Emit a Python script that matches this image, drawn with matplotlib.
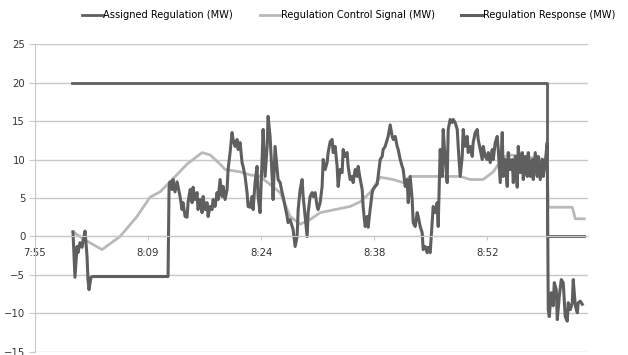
import matplotlib
matplotlib.use("Agg")
import matplotlib.pyplot as plt

# minutes after 7:55
assigned_t = [4.67, 64.56, 64.56, 69.23]
assigned_mw = [20, 20, 0, 0]

signal_t = [4.79, 6.56, 8.45, 10.72, 12.86, 14.50, 15.76, 17.02, 19.17, 21.06, 22.07,
            23.33, 23.96, 25.85, 27.11, 28.37, 30.90, 32.16, 33.42, 34.68, 35.94,
            39.72, 40.98, 42.24, 43.51, 45.15, 46.41, 47.29, 53.59, 54.85, 56.49,
            57.76, 59.02, 59.90, 64.56, 64.69, 67.72, 68.10, 69.23]
signal_mw = [0.6, -0.6, -1.7, 0.0, 2.6, 5.1, 5.8, 7.1, 9.4, 10.9, 10.6,
             9.4, 8.7, 8.4, 8.0, 7.8, 5.7, 2.6, 1.6, 2.2, 3.1,
             3.9, 4.5, 5.7, 7.7, 7.4, 7.0, 7.8, 7.8, 7.4, 7.4,
             8.4, 10.3, 10.6, 10.0, 3.8, 3.8, 2.3, 2.3]

response_t = [4.79, 5.04, 5.30, 5.42, 5.67, 5.93, 6.05, 6.31, 6.56, 6.68, 6.81, 7.06, 7.31,
              16.77, 16.90, 17.02, 17.28, 17.40, 17.65, 17.91, 18.03, 18.28, 18.54, 18.66,
              18.92, 19.17, 19.29, 19.55, 19.80, 19.92, 20.18, 20.43, 20.55, 20.81, 21.06,
              21.19, 21.44, 21.69, 21.82, 22.07, 22.32, 22.45, 22.70, 22.95, 23.08, 23.33,
              23.58, 23.71, 23.96, 24.21, 24.34, 24.59, 24.84, 24.97, 25.22, 25.47, 25.60,
              25.85, 26.10, 26.23, 26.48, 26.73, 26.86, 27.11, 27.36, 27.49, 27.74, 27.99,
              28.12, 28.37, 28.63, 28.75, 29.00, 29.26, 29.38, 29.63, 29.89, 30.01, 30.26,
              30.52, 30.64, 30.90, 31.15, 31.27, 31.53, 31.78, 31.90, 32.16, 32.41, 32.53,
              32.79, 33.04, 33.17, 33.42, 33.67, 33.80, 34.05, 34.30, 34.43, 34.68, 34.93,
              35.06, 35.31, 35.56, 35.69, 35.94, 36.19, 36.32, 36.57, 36.82, 36.95, 37.20,
              37.45, 37.58, 37.83, 38.08, 38.21, 38.46, 38.71, 38.84, 39.09, 39.34, 39.47,
              39.72, 39.97, 40.10, 40.35, 40.61, 40.73, 40.98, 41.24, 41.36, 41.61, 41.87,
              41.99, 42.24, 42.50, 42.62, 42.88, 43.13, 43.25, 43.51, 43.76, 43.88, 44.14,
              44.39, 44.51, 44.77, 45.02, 45.15, 45.40, 45.65, 45.78, 46.03, 46.28, 46.41,
              46.66, 46.91, 47.04, 47.29, 47.54, 47.67, 47.92, 48.17, 48.30, 48.55, 48.80,
              48.93, 49.18, 49.43, 49.56, 49.81, 50.06, 50.19, 50.44, 50.69, 50.82, 51.07,
              51.32, 51.45, 51.70, 51.95, 52.08, 52.33, 52.59, 52.71, 52.96, 53.22, 53.34,
              53.59, 53.85, 53.97, 54.22, 54.48, 54.60, 54.85, 55.11, 55.23, 55.49, 55.74,
              55.86, 56.12, 56.37, 56.49, 56.75, 57.00, 57.13, 57.38, 57.63, 57.76, 58.01,
              58.26, 58.39, 58.64, 58.89, 59.02, 59.27, 59.52, 59.65, 59.90, 60.15, 60.28,
              60.53, 60.78, 60.91, 61.16, 61.41, 61.54, 61.79, 62.04, 62.17, 62.42, 62.67,
              62.80, 63.05, 63.30, 63.43, 63.68, 63.93, 64.06, 64.31, 64.56, 64.69, 64.82,
              65.07, 65.32, 65.45, 65.70, 65.83, 66.08, 66.33, 66.58, 66.83, 67.09, 67.21,
              67.47, 67.72, 67.84, 68.10, 68.35, 68.47, 68.73, 68.98]
response_mw = [0.6, -5.3, -1.3, -2.1, -0.8, -1.4, -0.6, 0.7, -2.6, -5.6, -6.9, -5.3, -5.2,
               -5.2, 6.4, 7.1, 6.1, 7.4, 5.8, 7.1, 6.5, 5.2, 3.5, 4.4,
               2.6, 2.5, 4.4, 6.1, 4.4, 6.4, 4.8, 5.7, 3.5, 4.8, 3.1,
               5.2, 3.5, 4.4, 2.6, 3.9, 3.5, 4.8, 3.9, 5.7, 4.8, 7.4,
               5.2, 6.5, 4.8, 6.1, 8.7, 10.9, 13.5, 12.6, 11.7, 12.6, 11.3,
               12.2, 9.6, 9.1, 7.8, 5.7, 3.9, 3.8, 5.2, 3.5, 7.0, 9.1,
               5.2, 3.1, 10.2, 13.9, 7.8, 11.7, 15.6, 13.0, 7.8, 4.8, 11.7,
               8.7, 7.4, 7.0, 5.7, 5.2, 3.9, 2.6, 1.8, 2.2, 1.3, 0.9,
               -1.3, 0.0, 3.5, 6.1, 7.4, 5.2, 2.6, 0.0, 3.1, 5.2, 5.7,
               5.2, 5.7, 3.9, 3.5, 4.4, 6.5, 10.0, 8.7, 9.6, 10.9, 12.3,
               12.6, 10.9, 11.7, 9.1, 6.5, 8.7, 8.3, 11.3, 10.4, 10.9, 9.1,
               7.4, 7.8, 7.0, 8.7, 7.8, 9.1, 7.5, 6.1, 3.9, 1.3, 2.6,
               1.2, 3.5, 5.7, 6.1, 6.5, 6.8, 7.8, 10.0, 10.4, 11.3, 11.7,
               12.6, 13.0, 14.5, 13.0, 12.6, 13.0, 11.7, 11.3, 10.0, 9.1, 8.7,
               6.5, 7.4, 4.4, 7.8, 4.8, 1.8, 1.3, 3.1, 2.6, 1.3, 0.5,
               -1.7, -1.3, -2.1, -1.4, -2.1, 1.8, 3.9, 3.1, 4.4, 1.3, 11.3,
               7.8, 13.9, 10.0, 7.0, 13.9, 15.2, 14.8, 15.2, 14.8, 13.9, 11.7,
               7.8, 10.4, 13.9, 11.7, 13.0, 10.9, 11.7, 10.4, 12.2, 13.5, 13.9,
               12.6, 11.3, 10.0, 11.7, 10.4, 10.0, 10.9, 9.6, 11.3, 10.0, 12.2,
               13.0, 11.3, 7.0, 13.5, 7.8, 10.0, 6.5, 10.9, 8.7, 10.0, 7.0,
               10.4, 6.4, 11.7, 8.3, 10.9, 7.4, 10.4, 7.8, 10.9, 7.8, 10.0,
               7.4, 10.9, 7.8, 10.4, 7.4, 10.0, 7.8, 9.6, 12.2, -9.5, -10.4,
               -7.3, -9.0, -6.0, -6.9, -10.8, -7.8, -5.6, -6.0, -10.4, -11.0, -8.6,
               -9.5, -8.6, -5.6, -9.0, -9.9, -8.6, -8.4, -8.8]

tick_pos = [0, 14.25, 28.5, 42.75, 57]
tick_labels = ["7:55", "8:09", "8:24", "8:38", "8:52"]

dark = "#5f5f5f"
light = "#b9b9b9"
grid = "#c8c8c8"

fig = plt.figure(figsize=(6.28, 3.55), dpi=100)
ax = fig.add_axes([0.0557, 0.0085, 0.8806, 0.8675])

ax.plot(assigned_t, assigned_mw, color=dark, lw=2.0, label="Assigned Regulation (MW)")
ax.plot(signal_t, signal_mw, color=light, lw=2.0, label="Regulation Control Signal (MW)")
ax.plot(response_t, response_mw, color=dark, lw=2.2, label="Regulation Response (MW)")

ax.set_xlim(0, 69.7)
ax.set_ylim(-15, 25)
ax.set_yticks(range(-15, 26, 5))
ax.yaxis.grid(True, color=grid, lw=1.0)
ax.set_axisbelow(True)

ax.spines["top"].set_visible(False)
ax.spines["right"].set_visible(False)
ax.spines["left"].set_color(grid)
ax.spines["bottom"].set_position(("data", 0))
ax.spines["bottom"].set_color(grid)
ax.set_xticks(tick_pos)
ax.set_xticklabels(tick_labels)
ax.tick_params(axis="x", length=3, color=grid, pad=5, labelsize=7.3, labelcolor="#333333")
ax.tick_params(axis="y", length=4, color=grid, pad=3, labelsize=7.3, labelcolor="#333333")

ax.legend(loc="upper left", bbox_to_anchor=(82 / 628, 1 - 10 / 355),
          bbox_transform=fig.transFigure, ncol=3, frameon=False, borderpad=0,
          borderaxespad=0, fontsize=7.1, handlelength=2.1, handletextpad=0.05,
          columnspacing=2.7)

fig.savefig("out.png", dpi=100)
